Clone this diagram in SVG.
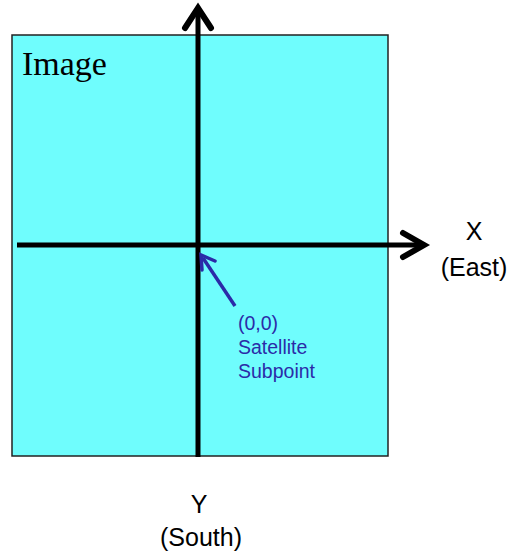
<svg xmlns="http://www.w3.org/2000/svg" width="508" height="556" viewBox="0 0 508 556">
<style>
.ax{stroke:#000;stroke-width:5;fill:none;stroke-linecap:butt}
.head{stroke:#000;stroke-width:6;fill:none;stroke-linecap:round;stroke-linejoin:miter}
.lbl{font-family:"Liberation Sans",Arial,sans-serif;font-size:25px;fill:#000;text-anchor:middle}
.blue{font-family:"Liberation Sans",Arial,sans-serif;font-size:19.5px;fill:#2b2ba8}
</style>
<rect width="508" height="556" fill="#fff"/>
<g id="image">
<rect x="12" y="35" width="376" height="421" fill="#6ffdfd" stroke="#222" stroke-width="1.5"/>
<text x="22" y="75" font-family="Liberation Serif,'Times New Roman',serif" font-size="34" fill="#000">Image</text>
</g>
<g id="connectors">
<line class="ax" x1="198" y1="457" x2="198" y2="8"/>
<polyline class="head" points="185,28 198,8 211,28"/>
<line class="ax" x1="17" y1="245" x2="424" y2="245"/>
<polyline class="head" points="403,233 424,245 403,257"/>
<line x1="235" y1="306" x2="203" y2="258" stroke="#2b2ba8" stroke-width="3.5"/>
<polyline points="202,270 201,255 215,261" fill="none" stroke="#2b2ba8" stroke-width="3.5" stroke-linecap="round"/>
</g>
<g id="xlabel">
<text class="lbl" x="474" y="240">X</text>
<text class="lbl" x="474" y="276">(East)</text>
</g>
<g id="ylabel">
<text class="lbl" x="199" y="513">Y</text>
<text class="lbl" x="201" y="546">(South)</text>
</g>
<g id="origin">
<text class="blue" x="238" y="330">(0,0)</text>
<text class="blue" x="238" y="354">Satellite</text>
<text class="blue" x="238" y="378">Subpoint</text>
</g>
</svg>
